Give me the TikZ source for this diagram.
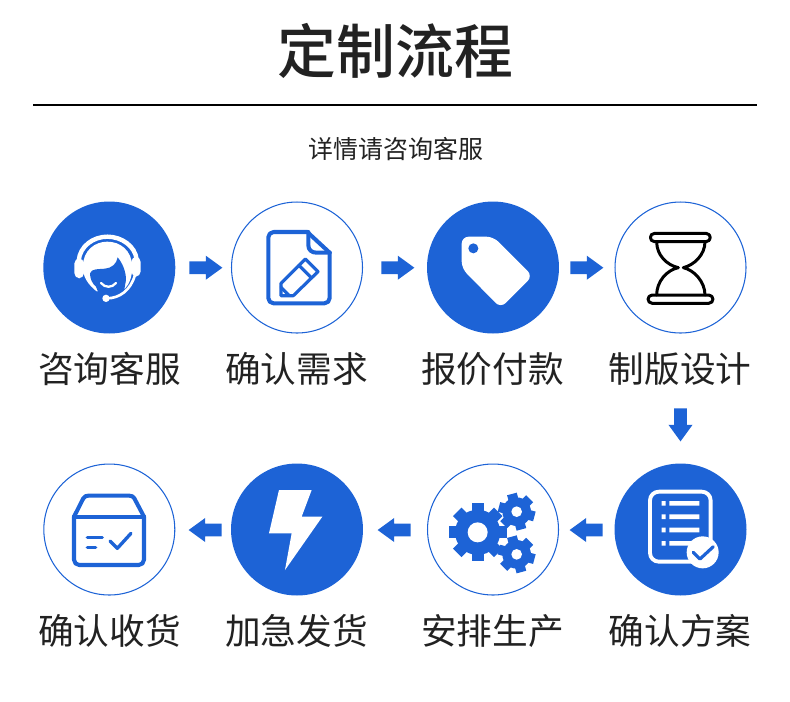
\documentclass[tikz,border=0pt]{standalone}
\usepackage{fontspec}
\usepackage{tikz}
\usetikzlibrary{shapes.arrows}
\newfontfamily\cjk{Noto Sans CJK SC}
\newfontfamily\cjktitle{Noto Sans CJK SC Medium}
\definecolor{planblue}{HTML}{1D63D6}
\definecolor{plantext}{HTML}{222222}
\tikzset{
  zoomed/.style={x=0.006667cm,y=-0.006667cm},
  fulldisc/.style={circle,fill=planblue,minimum size=2.64cm,inner sep=0pt,outer sep=0pt},
  ringdisc/.style={circle,draw=planblue,line width=0.6pt,minimum size=2.62cm,inner sep=0pt,outer sep=0pt},
  steptext/.style={text=plantext,inner sep=0pt,font=\cjk\fontsize{20.3}{24}\selectfont},
  blockarrow/.style={single arrow,fill=planblue,inner sep=0.12cm,outer sep=0pt,minimum height=0.66cm,
    single arrow head extend=0.114cm,single arrow tip angle=72},
  blueline/.style={draw=planblue,line width=2.3pt,line join=round,line cap=round},
  whiteline/.style={draw=white,line width=2.2pt,line join=round,line cap=round},
  blackline/.style={draw=black,line width=1.7pt,line join=round,line cap=round}
}
\newcommand{\gearicon}[7]{
  \foreach \tooth in {1,...,#5}
    \fill[planblue,rotate around={#6+\tooth*360/#5:(#1,#2)}] (#1-#7,#2) rectangle (#1+#7,#2-#4);
  \fill[planblue] (#1,#2) circle (#4*0.78);
  \fill[white] (#1,#2) circle (#3);
}
\begin{document}
\begin{tikzpicture}[x=0.02cm,y=-0.02cm]
  \useasboundingbox (0,0) rectangle (790,701);
  \node[text=plantext,inner sep=0pt,font=\cjktitle\fontsize{33.5}{38}\selectfont] (title) at (395.5,51) {定制流程};
  \coordinate (ruleleft) at (33,105);
  \coordinate (ruleright) at (757,105);
  \draw[line width=0.7pt] (ruleleft) -- (ruleright);
  \node[text=plantext,inner sep=0pt,font=\cjk\fontsize{14.2}{18}\selectfont] (subtitle) at (396,149) {详情请咨询客服};

  \node[fulldisc] (kefu) at (109.3,267.5) {};
  \node[ringdisc] (xuqiu) at (297,267.5) {};
  \node[fulldisc] (fukuan) at (493,267.5) {};
  \node[ringdisc] (sheji) at (680.5,267.5) {};
  \node[ringdisc] (shouhuo) at (109.3,529.5) {};
  \node[fulldisc] (fahuo) at (297,529.5) {};
  \node[ringdisc] (shengchan) at (493,529.5) {};
  \node[fulldisc] (fangan) at (680.5,529.5) {};

  \node[steptext] (kefutext) at (109.5,369) {咨询客服};
  \node[steptext] (xuqiutext) at (296.5,369) {确认需求};
  \node[steptext] (fukuantext) at (492.5,369) {报价付款};
  \node[steptext] (shejitext) at (680,369) {制版设计};
  \node[steptext] (shouhuotext) at (109.5,631) {确认收货};
  \node[steptext] (fahuotext) at (296.5,631) {加急发货};
  \node[steptext] (shengchantext) at (492.5,631) {安排生产};
  \node[steptext] (fangantext) at (680,631) {确认方案};

  \node[blockarrow] (arrowa) at (201.5,267.7) {};
  \node[blockarrow] (arrowb) at (393.5,267.7) {};
  \node[blockarrow] (arrowc) at (582.5,267.7) {};
  \node[blockarrow,shape border rotate=270] (arrowd) at (680.5,420.5) {};
  \node[blockarrow,shape border rotate=180] (arrowe) at (590.5,530) {};
  \node[blockarrow,shape border rotate=180] (arrowf) at (398.5,530) {};
  \node[blockarrow,shape border rotate=180] (arrowg) at (209.5,530) {};

  \begin{scope}[shift={(70,230)},zoomed]
    \draw[white,line width=2.5pt,line cap=round] (26,92) .. controls (30,48) and (70,20) .. (112,20) .. controls (155,20) and (195,48) .. (200,88);
    \fill[white] (38,110) .. controls (40,60) and (75,35) .. (112,35) .. controls (150,35) and (185,60) .. (187,110) .. controls (187,135) and (180,160) .. (165,176) -- (80,184) .. controls (55,165) and (38,140) .. (38,110) -- cycle;
    \fill[planblue] (60,130) .. controls (65,115) and (85,118) .. (105,116) .. controls (125,114) and (140,102) .. (143,82) .. controls (158,100) and (168,125) .. (168,150) -- (160,195) -- (88,195) -- (78,170) .. controls (66,160) and (60,145) .. (60,130) -- cycle;
    \draw[white,line width=1.3pt,line cap=round] (93,159) .. controls (105,174) and (126,174) .. (138,159);
    \fill[white,rounded corners=3pt] (13,85) rectangle (42,145);
    \fill[white,rounded corners=3pt] (184,80) rectangle (212,140);
    \draw[white,line width=1.5pt] (110,205) .. controls (150,205) and (182,180) .. (195,135);
    \fill[white] (108,205) circle (11);
  \end{scope}

  \begin{scope}[shift={(30,190)},zoomed]
    \draw[blueline,rounded corners=3pt] (832,126) -- (715,126) -- (715,340) -- (899,340) -- (899,188);
    \draw[blueline] (832,126) -- (899,188);
    \draw[blueline] (835,126) -- (835,165) .. controls (835,180) and (845,188) .. (860,188) -- (899,188);
    \draw[blueline,line width=1.8pt] (753,317) -- (753,280) -- (826,207) -- (864,245) -- (790,317) -- cycle;
    \draw[blueline,line width=1.8pt] (807,226) -- (845,264);
    \draw[blueline,line width=1.8pt] (753,292) -- (778,317);
  \end{scope}

  \begin{scope}[shift={(410,190)},zoomed]
    \fill[white,rounded corners=4pt] (155,140) -- (250,140) -- (368,258) -- (272,354) -- (155,235) -- cycle;
    \fill[planblue] (190,175) circle (15);
    \draw[blackline] (734,130) -- (888,130) .. controls (905,130) and (905,155) .. (888,155) -- (734,155) .. controls (717,155) and (717,130) .. (734,130) -- cycle;
    \draw[blackline] (727,315) -- (896,315) .. controls (913,315) and (913,340) .. (896,340) -- (727,340) .. controls (710,340) and (710,315) .. (727,315) -- cycle;
    \draw[blackline] (740,155) .. controls (740,195) and (770,225) .. (805,233) .. controls (770,240) and (740,275) .. (740,315);
    \draw[blackline] (885,155) .. controls (885,195) and (852,225) .. (820,233) .. controls (852,240) and (885,275) .. (885,315);
  \end{scope}

  \begin{scope}[shift={(30,455)},zoomed]
    \draw[blueline,rounded corners=3pt] (132,185) -- (132,330) -- (342,330) -- (342,185);
    \draw[blueline] (132,185) -- (342,185);
    \draw[blueline] (132,185) -- (160,130) .. controls (164,124) and (168,122) .. (175,122) -- (298,122) .. controls (305,122) and (309,124) .. (313,130) -- (342,185);
    \draw[blueline,line width=1.9pt] (172,248) -- (217,248);
    \draw[blueline,line width=1.9pt] (172,278) -- (197,278);
    \draw[blueline,line width=1.9pt] (240,258) -- (262,280) -- (303,235);
    \fill[white] (747,105) -- (845,105) -- (815,185) -- (877,185) -- (765,345) -- (785,235) -- (717,235) -- cycle;
  \end{scope}

  \begin{scope}[shift={(410,455)},zoomed]
    \gearicon{203}{232}{30}{87}{8}{0}{18}
    \gearicon{320}{170}{16}{55}{6}{15}{15}
    \gearicon{320}{298}{16}{55}{6}{15}{15}
    \draw[whiteline,rounded corners=5pt] (720,110) rectangle (902,320);
    \foreach \rowy in {145,185,225}
      \fill[white] (755,\rowy-7) rectangle (767,\rowy+7) (778,\rowy-7) rectangle (868,\rowy+7);
    \fill[white] (755,258) rectangle (767,272) (778,258) rectangle (845,272);
    \fill[white] (878,292) circle (48);
    \draw[blueline,line width=1.8pt] (850,292) -- (870,312) -- (910,275);
  \end{scope}
\end{tikzpicture}
\end{document}
